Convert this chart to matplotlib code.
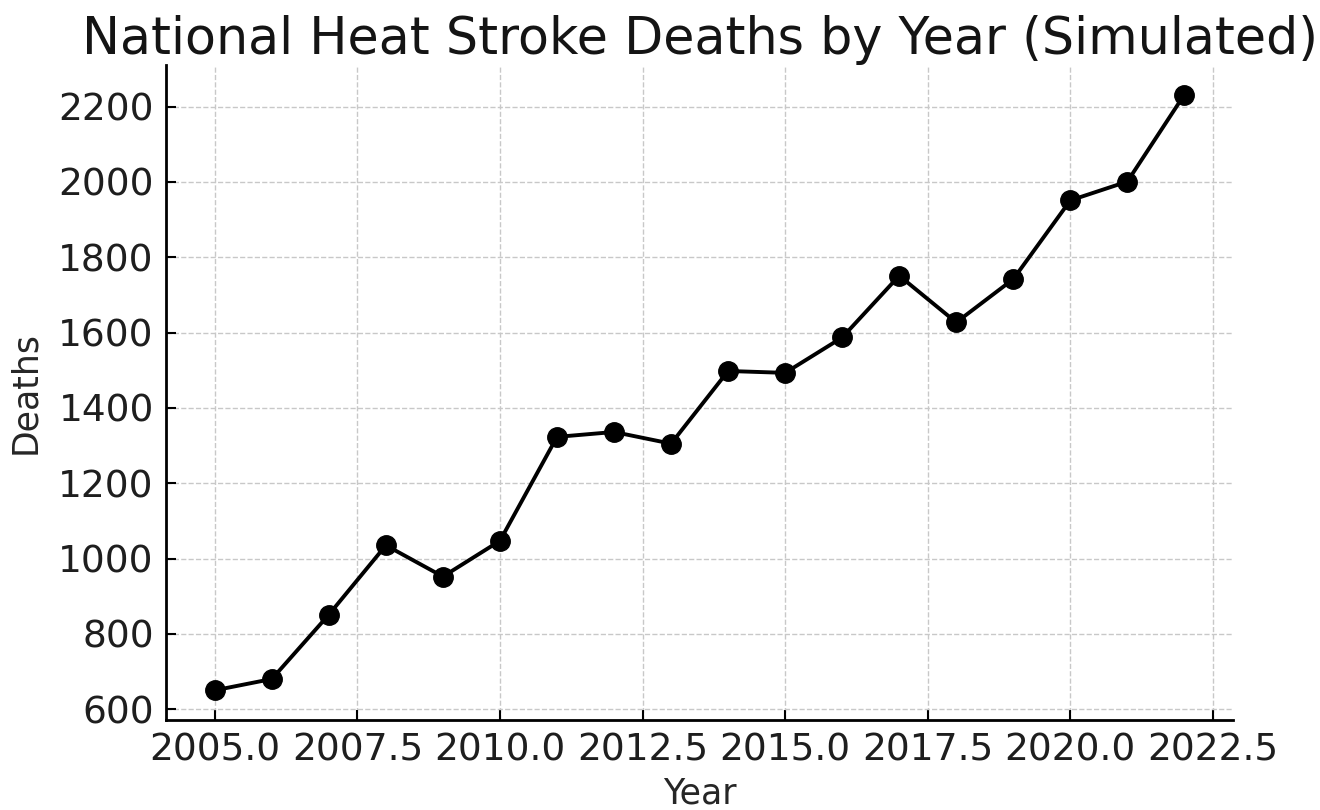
import numpy as np
import matplotlib
matplotlib.use("Agg")
import matplotlib.pyplot as plt
from matplotlib.ticker import MultipleLocator

# datos
years = [2005, 2006, 2007, 2008, 2009, 2010, 2011, 2012, 2013,
         2014, 2015, 2016, 2017, 2018, 2019, 2020, 2021, 2022]
deaths = [650, 680, 851, 1035, 952, 1047, 1323, 1336, 1305,
          1498, 1493, 1587, 1751, 1627, 1742, 1951, 2001, 2232]

plt.rcParams["font.family"] = ["DejaVu Sans"]

fig = plt.figure(figsize=(13.2, 8.1), dpi=100)
ax = fig.add_axes([0.126, 0.111, 0.808, 0.809])

ax.plot(years, deaths, color="black", linewidth=2.8, marker="o", markersize=14)

ax.set_title("National Heat Stroke Deaths by Year (Simulated)", fontsize=36.5,
             color="#141414", pad=8)
ax.set_xlabel("Year", fontsize=25, color="#262626", labelpad=6)
ax.set_ylabel("Deaths", fontsize=25, color="#262626", labelpad=12)

ax.xaxis.set_major_locator(MultipleLocator(2.5))
ax.yaxis.set_major_locator(MultipleLocator(200))

ax.grid(True, linestyle="--", color="#c8c8c8", linewidth=1.0)
ax.set_axisbelow(True)

# solo ejes izquierdo e inferior
ax.spines["top"].set_visible(False)
ax.spines["right"].set_visible(False)
ax.spines["left"].set_linewidth(2.0)
ax.spines["bottom"].set_linewidth(2.0)

ax.tick_params(axis="both", direction="in", length=7, width=1.5,
               labelsize=27, labelcolor="#1e1e1e", pad=9)

fig.savefig("out.png", dpi=100)
